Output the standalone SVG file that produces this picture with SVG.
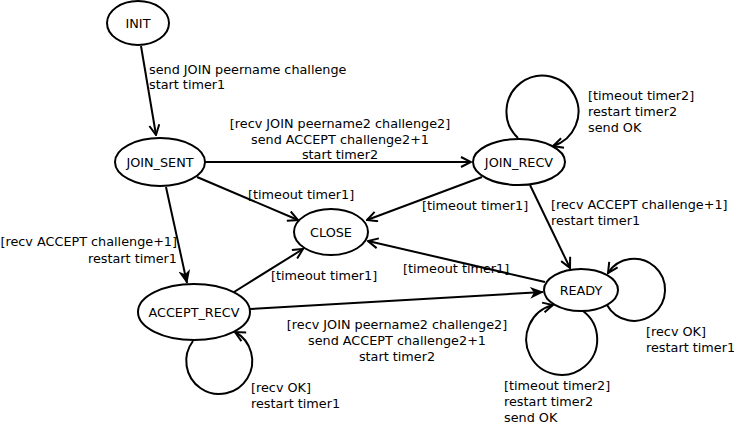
<svg xmlns="http://www.w3.org/2000/svg" width="734" height="425" viewBox="0 0 734 425">
<style>
  .node ellipse { fill: #fff; stroke: #000; stroke-width: 2; }
  .node text, .lbl text { font-family: "DejaVu Sans", sans-serif; font-size: 12.8px; fill: #000; }
  .node text { text-anchor: middle; }
  .edge { fill: none; stroke: #000; stroke-width: 2; }
  .open { marker-end: url(#openArrow); }
  .filled { marker-end: url(#filledArrow); }
</style>
<defs>
  <marker id="openArrow" viewBox="0 0 12 12" refX="11" refY="6" markerWidth="12" markerHeight="12" markerUnits="userSpaceOnUse" orient="auto">
    <path d="M1,1 L11,6 L1,11" fill="none" stroke="#000" stroke-width="2"/>
  </marker>
  <marker id="filledArrow" viewBox="0 0 14 12" refX="13" refY="6" markerWidth="14" markerHeight="12" markerUnits="userSpaceOnUse" orient="auto">
    <path d="M0,0 L14,6 L0,12 L4,6 Z" fill="#000"/>
  </marker>
</defs>
<rect width="734" height="425" fill="#fff"/>
<g id="connectors">
  <line class="edge open" x1="141" y1="46" x2="156" y2="135"/>
  <line class="edge open" x1="205" y1="162" x2="471" y2="162"/>
  <line class="edge open" x1="197" y1="177" x2="298" y2="220"/>
  <line class="edge open" x1="482" y1="177" x2="367" y2="220"/>
  <line class="edge filled" x1="166" y1="187" x2="187" y2="283"/>
  <line class="edge open" x1="234" y1="292" x2="303" y2="249"/>
  <line class="edge open" x1="545" y1="282" x2="368" y2="241"/>
  <line class="edge open" x1="530" y1="185" x2="570" y2="268"/>
  <line class="edge filled" x1="250" y1="309" x2="543" y2="292"/>
  <path class="edge open" d="M518,138 A36,36 0 1 1 553,146"/>
  <path class="edge open" d="M193,341 A33,33 0 1 0 235,332"/>
  <path class="edge open" d="M607,305 A31,31 0 1 0 608,273"/>
  <path class="edge open" d="M583,311 A35.5,35.5 0 1 1 553,305"/>
</g>
<g class="lbl" id="labels">
  <text x="149" y="74">send JOIN peername challenge</text>
  <text x="149" y="89">start timer1</text>
  <text x="340" y="128" text-anchor="middle">[recv JOIN peername2 challenge2]</text>
  <text x="340" y="144" text-anchor="middle">send ACCEPT challenge2+1</text>
  <text x="340" y="159" text-anchor="middle">start timer2</text>
  <text x="248" y="199">[timeout timer1]</text>
  <text x="422" y="210">[timeout timer1]</text>
  <text x="551" y="209">[recv ACCEPT challenge+1]</text>
  <text x="551" y="225">restart timer1</text>
  <text x="588" y="100">[timeout timer2]</text>
  <text x="588" y="116">restart timer2</text>
  <text x="588" y="132">send OK</text>
  <text x="177" y="246" text-anchor="end">[recv ACCEPT challenge+1]</text>
  <text x="177" y="263" text-anchor="end">restart timer1</text>
  <text x="271" y="280">[timeout timer1]</text>
  <text x="403" y="273">[timeout timer1]</text>
  <text x="397" y="329" text-anchor="middle">[recv JOIN peername2 challenge2]</text>
  <text x="397" y="345" text-anchor="middle">send ACCEPT challenge2+1</text>
  <text x="397" y="361" text-anchor="middle">start timer2</text>
  <text x="251" y="392">[recv OK]</text>
  <text x="251" y="408">restart timer1</text>
  <text x="646" y="336">[recv OK]</text>
  <text x="646" y="352">restart timer1</text>
  <text x="504" y="390">[timeout timer2]</text>
  <text x="504" y="406">restart timer2</text>
  <text x="504" y="422">send OK</text>
</g>
<g class="node" id="INIT"><ellipse cx="138" cy="23" rx="31" ry="22"/><text x="138" y="28">INIT</text></g>
<g class="node" id="JOIN_SENT"><ellipse cx="160" cy="162" rx="45" ry="24"/><text x="160" y="167">JOIN_SENT</text></g>
<g class="node" id="JOIN_RECV"><ellipse cx="519" cy="162" rx="46" ry="23"/><text x="519" y="167">JOIN_RECV</text></g>
<g class="node" id="CLOSE"><ellipse cx="331" cy="232" rx="37" ry="23"/><text x="331" y="237">CLOSE</text></g>
<g class="node" id="ACCEPT_RECV"><ellipse cx="194" cy="312" rx="56" ry="28"/><text x="194" y="317">ACCEPT_RECV</text></g>
<g class="node" id="READY"><ellipse cx="581" cy="290" rx="37" ry="21"/><text x="581" y="295">READY</text></g>
</svg>
